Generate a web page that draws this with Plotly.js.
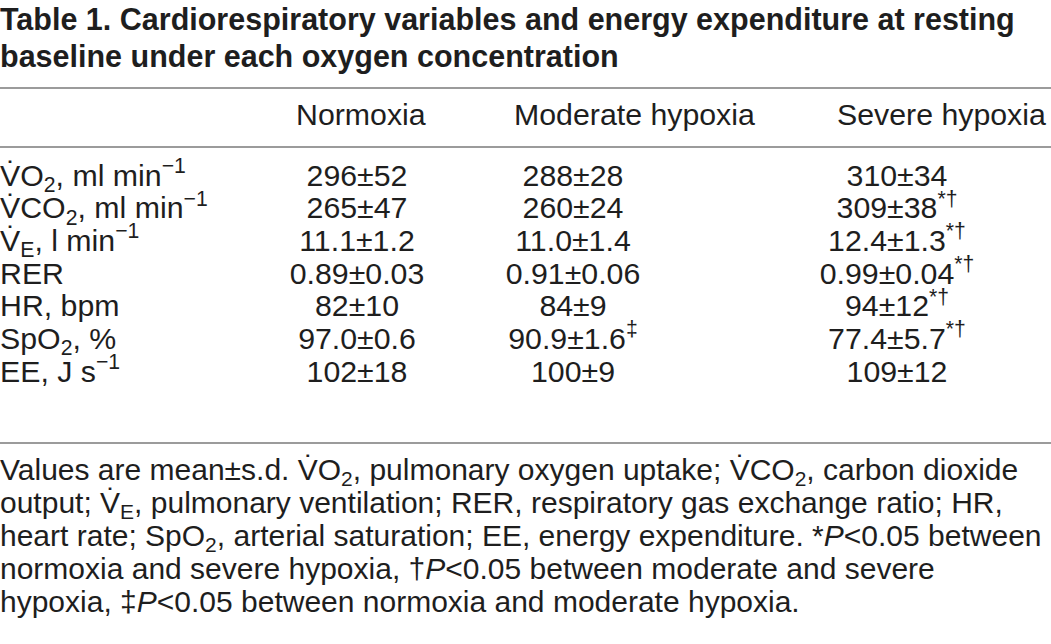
<!DOCTYPE html>
<html>
<head>
<meta charset="utf-8">
<script src="https://cdn.plot.ly/plotly-3.0.1.min.js"></script>
<style>html,body{margin:0;padding:0;background:#fff;}#chart{width:1051px;height:644px;}</style>
</head>
<body>
<div id="chart"></div>
<script>
// ---- data ----
const titleLines = [
  'Table 1. Cardiorespiratory variables and energy expenditure at resting',
  'baseline under each oxygen concentration'
];
const conditions = ['Normoxia', 'Moderate hypoxia', 'Severe hypoxia'];
const variables = [
  'V\u0307O<sub>2</sub>, ml min<sup>\u22121</sup>',
  'V\u0307CO<sub>2</sub>, ml min<sup>\u22121</sup>',
  'V\u0307<sub>E</sub>, l min<sup>\u22121</sup>',
  'RER',
  'HR, bpm',
  'SpO<sub>2</sub>, %',
  'EE, J s<sup>\u22121</sup>'
];
const normoxia = ['296±52', '265±47', '11.1±1.2', '0.89±0.03', '82±10', '97.0±0.6', '102±18'];
const moderate = ['288±28', '260±24', '11.0±1.4', '0.91±0.06', '84±9', '90.9±1.6', '100±9'];
const severe   = ['310±34', '309±38', '12.4±1.3', '0.99±0.04', '94±12', '77.4±5.7', '109±12'];
const normoxiaMarks = ['', '', '', '', '', '', ''];
const moderateMarks = ['', '', '', '', '', '‡', ''];
const severeMarks   = ['', '*†', '*†', '*†', '*†', '*†', ''];
const footnoteLines = [
  'Values are mean±s.d. V\u0307O<sub>2</sub>, pulmonary oxygen uptake; V\u0307CO<sub>2</sub>, carbon dioxide',
  'output; V\u0307<sub>E</sub>, pulmonary ventilation; RER, respiratory gas exchange ratio; HR,',
  'heart rate; SpO<sub>2</sub>, arterial saturation; EE, energy expenditure. *<i>P</i><0.05 between',
  'normoxia and severe hypoxia, †<i>P</i><0.05 between moderate and severe',
  'hypoxia, ‡<i>P</i><0.05 between normoxia and moderate hypoxia.'
];

// ---- layout constants ----
const FONT = 'Liberation Sans, Arial, sans-serif';
const SIZE = 30.3;
const FOOT_SIZE = 30;
const TITLE_SIZE = 30.5;
const colCenters = [357, 573, 897];
const headerX = [296, 514, 837];
const headerY = 117;
const rowY0 = 178, rowStep = 32.7;
const titleY0 = 22, titleStep = 37;
const footY0 = 472, footStep = 33;
const lineYs = [88, 147, 443];

const withMarks = (vals, marks) => vals.map((v, i) => marks[i] ? v + '<sup>' + marks[i] + '</sup>' : v);
const rowYs = variables.map((_, i) => rowY0 + i * rowStep);
const txt = (x, y, text, pos, size) => ({
  type: 'scatter', mode: 'text', x: x, y: y, text: text, textposition: pos,
  textfont: {family: FONT, size: size, color: '#1e1e1e'}, hoverinfo: 'skip', showlegend: false, cliponaxis: false
});

const traces = [
  txt(titleLines.map(() => 0), titleLines.map((_, i) => titleY0 + i * titleStep),
      titleLines.map(t => '<b>' + t + '</b>'), 'middle right', TITLE_SIZE),
  txt(headerX, headerX.map(() => headerY), conditions, 'middle right', SIZE),
  txt(variables.map(() => 0), rowYs, variables, 'middle right', SIZE),
  txt(normoxia.map(() => colCenters[0]), rowYs, withMarks(normoxia, normoxiaMarks), 'middle center', SIZE),
  txt(moderate.map(() => colCenters[1]), rowYs, withMarks(moderate, moderateMarks), 'middle center', SIZE),
  txt(severe.map(() => colCenters[2]), rowYs, withMarks(severe, severeMarks), 'middle center', SIZE),
  txt(footnoteLines.map(() => 0), footnoteLines.map((_, i) => footY0 + i * footStep), footnoteLines, 'middle right', FOOT_SIZE)
];

const shapes = lineYs.map(y => ({
  type: 'line', xref: 'x', yref: 'y', x0: 0, x1: 1051, y0: y, y1: y,
  line: {color: '#7a7a7a', width: 1.5}
}));

const layout = {
  width: 1051, height: 644,
  margin: {l: 0, r: 0, t: 0, b: 0},
  paper_bgcolor: '#ffffff', plot_bgcolor: '#ffffff',
  xaxis: {range: [0, 1051], visible: false, fixedrange: true},
  yaxis: {range: [644, 0], visible: false, fixedrange: true},
  shapes: shapes,
  showlegend: false
};

Plotly.newPlot('chart', traces, layout, {staticPlot: true, displayModeBar: false});
</script>
</body>
</html>
